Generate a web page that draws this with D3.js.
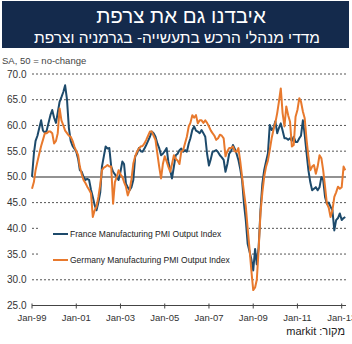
<!DOCTYPE html>
<html>
<head>
<meta charset="utf-8">
<script src="https://cdn.jsdelivr.net/npm/d3@7"></script>
<style>
  body { margin: 0; background: #fff; }
  svg { display: block; font-family: "Liberation Sans", Arial, sans-serif; }
</style>
</head>
<body>
<svg id="chart" width="352" height="344"></svg>
<script>
// monthly values, Jan-99 .. Mar-13
const firstMonth = new Date(1999, 0, 1);

const france = [
  50.0, 54.5, 57.0, 58.0, 59.5, 61.0, 59.0, 58.6, 59.0, 60.5, 62.0, 63.0, // 1999
  61.5, 60.5, 62.5, 64.6, 65.5, 66.5, 67.8, 65.0, 59.5, 57.0, 56.0, 55.5, // 2000
  54.9, 53.5, 51.3, 51.0, 50.0, 49.4, 49.6, 49.4, 47.5, 46.1, 44.5, 43.5, // 2001
  45.0, 47.0, 52.0, 54.0, 55.9, 55.5, 55.6, 52.0, 51.0, 50.5, 50.0, 49.4, // 2002
  51.0, 53.0, 52.5, 48.7, 48.0, 47.4, 48.0, 49.4, 54.0, 54.5, 55.6, 55.0, // 2003
  54.9, 55.5, 56.2, 57.0, 57.8, 58.8, 58.5, 57.8, 56.5, 55.6, 54.2, 54.5, // 2004
  55.0, 55.6, 53.0, 51.3, 49.7, 52.0, 54.2, 54.5, 55.2, 55.5, 54.9, 55.2, // 2005
  54.9, 56.5, 57.5, 59.1, 59.8, 59.0, 58.8, 58.5, 59.1, 58.5, 57.8, 54.5, // 2006
  52.2, 53.5, 54.9, 55.0, 55.2, 54.8, 54.2, 53.8, 53.3, 51.0, 52.5, 54.5, // 2007
  55.0, 56.2, 55.5, 54.5, 53.3, 51.5, 49.4, 44.8, 41.5, 37.0, 35.5, 34.0, // 2008
  31.8, 36.0, 33.0, 36.4, 43.5, 48.7, 51.3, 53.0, 54.6, 60.1, 59.1, 59.5, // 2009
  60.8, 58.5, 59.5, 60.4, 59.0, 57.5, 57.5, 57.2, 57.5, 57.0, 57.8, 56.8, // 2010
  56.8, 57.5, 58.0, 61.0, 58.2, 54.6, 51.3, 49.0, 47.4, 47.7, 48.0, 47.4, // 2011
  48.0, 50.0, 49.4, 46.1, 44.8, 45.0, 44.2, 43.5, 39.6, 41.6, 42.0, 42.9, // 2012
  41.6, 42.0, 42.2                                                         // 2013
];

const germany = [
  47.7, 49.0, 51.3, 53.0, 54.5, 56.0, 57.2, 58.5, 58.5, 58.8, 58.8, 58.5, // 1999
  56.5, 57.0, 58.5, 63.3, 61.0, 60.0, 59.0, 58.5, 58.0, 57.8, 57.0, 55.9, // 2000
  55.0, 54.2, 52.0, 50.5, 49.4, 48.8, 48.1, 47.5, 46.8, 42.2, 43.5, 44.2, // 2001
  46.1, 48.5, 51.3, 51.8, 52.0, 52.3, 52.0, 52.0, 44.8, 49.0, 50.0, 51.3, // 2002
  50.5, 50.0, 49.0, 48.1, 46.4, 47.4, 49.5, 52.6, 54.0, 54.9, 55.5, 55.9, // 2003
  56.0, 56.5, 57.2, 58.0, 58.8, 58.8, 58.0, 57.2, 54.5, 52.0, 49.7, 52.5, // 2004
  54.0, 53.0, 52.0, 51.0, 52.5, 54.2, 53.5, 53.2, 52.5, 54.9, 55.2, 56.5, // 2005
  57.8, 59.8, 60.5, 62.0, 61.5, 62.0, 60.4, 61.0, 61.0, 60.5, 61.0, 60.5, // 2006
  59.8, 59.0, 58.5, 58.0, 57.2, 57.5, 58.2, 58.0, 57.5, 54.0, 55.0, 55.6, // 2007
  55.6, 55.9, 55.0, 54.9, 55.6, 53.0, 50.0, 47.0, 44.2, 40.0, 36.0, 31.8, // 2008
  28.0, 28.5, 30.0, 36.0, 43.0, 47.0, 50.0, 52.0, 53.2, 55.2, 57.5, 59.1, // 2009
  60.5, 62.4, 64.6, 67.2, 62.4, 59.8, 63.7, 62.0, 60.7, 55.9, 56.2, 61.7, // 2010
  63.0, 65.3, 64.6, 62.7, 61.4, 57.2, 54.0, 51.3, 52.0, 52.3, 50.6, 52.0, // 2011
  54.2, 53.6, 51.3, 48.1, 44.8, 44.0, 42.2, 43.5, 46.1, 47.0, 48.1, 47.7, // 2012
  48.0, 52.0, 51.3                                                         // 2013
];

const seriesNames = ["France Manufacturing PMI Output Index", "Germany Manufacturing PMI Output Index"];
const seriesColors = ["#1d4a6b", "#e8792d"];
const yTicks = [25, 30, 35, 40, 45, 50, 55, 60, 65, 70];
const xTickLabels = ["Jan-99", "Jan-01", "Jan-03", "Jan-05", "Jan-07", "Jan-09", "Jan-11", "Jan-13"];

const titleText = "איבדנו גם את צרפת";
const subtitleText = "מדדי מנהלי הרכש בתעשייה- בגרמניה וצרפת";
const unitText = "SA, 50 = no-change";
const sourceText = "מקור: markit";

const svg = d3.select("#chart");
const parseTick = d3.timeParse("%b-%y");

const x = d3.scaleTime()
    .domain([firstMonth, parseTick("Jan-13")])
    .range([32, 341.7]);
const y = d3.scaleLinear().domain([25, 70]).range([305.5, 74]);
const plotRight = 346;

// header banner
svg.append("rect")
    .attr("x", 2).attr("y", 1).attr("width", 347).attr("height", 47)
    .attr("fill", "#142a4c");

svg.append("text")
    .attr("x", 181).attr("y", 23)
    .attr("text-anchor", "middle")
    .attr("direction", "rtl")
    .attr("fill", "#fff")
    .style("font-size", "20.5px")
    .text(titleText);

svg.append("text")
    .attr("x", 177).attr("y", 43)
    .attr("text-anchor", "middle")
    .attr("direction", "rtl")
    .attr("fill", "#fff")
    .style("font-size", "15.5px")
    .text(subtitleText);

svg.append("text")
    .attr("x", 2).attr("y", 64)
    .attr("fill", "#444")
    .style("font-size", "9.5px")
    .text(unitText);

// gridlines + y labels
yTicks.forEach(t => {
    if (t > 25) {
        svg.append("line")
            .attr("x1", 32).attr("x2", plotRight)
            .attr("y1", y(t)).attr("y2", y(t))
            .attr("stroke", t === 50 ? "#6e6e6e" : "#555")
            .attr("stroke-width", t === 50 ? 1.5 : 1)
            .attr("stroke-dasharray", t === 50 ? null : "2,2");
    }
    svg.append("text")
        .attr("x", 26.5).attr("y", y(t))
        .attr("dy", "0.35em")
        .attr("text-anchor", "end")
        .attr("fill", "#333")
        .style("font-size", "10px")
        .text(d3.format(".1f")(t));
});

// x axis
svg.append("line")
    .attr("x1", 32).attr("x2", plotRight)
    .attr("y1", y(25)).attr("y2", y(25))
    .attr("stroke", "#444").attr("stroke-width", 1);

xTickLabels.forEach(lbl => {
    const xv = x(parseTick(lbl));
    svg.append("line")
        .attr("x1", xv).attr("x2", xv)
        .attr("y1", y(25) - 2).attr("y2", y(25) + 3)
        .attr("stroke", "#444");
    svg.append("text")
        .attr("x", xv).attr("y", 321)
        .attr("text-anchor", "middle")
        .attr("fill", "#333")
        .style("font-size", "9.5px")
        .text(lbl);
});

// legend (white box hides gridlines behind it)
svg.append("rect")
    .attr("x", 39).attr("y", 214).attr("width", 210).attr("height", 56)
    .attr("fill", "#fff");

seriesNames.forEach((name, i) => {
    const ly = 234 + i * 26;
    svg.append("line")
        .attr("x1", 53).attr("x2", 68)
        .attr("y1", ly).attr("y2", ly)
        .attr("stroke", seriesColors[i]).attr("stroke-width", 2);
    svg.append("text")
        .attr("x", 70).attr("y", ly)
        .attr("dy", "0.35em")
        .attr("fill", "#222")
        .style("font-size", "8.5px")
        .text(name);
});

// series
const line = d3.line()
    .x((d, i) => x(d3.timeMonth.offset(firstMonth, i)))
    .y(d => y(d));

[france, germany].forEach((vals, i) => {
    svg.append("path")
        .datum(vals)
        .attr("fill", "none")
        .attr("stroke", seriesColors[i])
        .attr("stroke-width", 2)
        .attr("stroke-linejoin", "round")
        .attr("d", line);
});

// source
svg.append("text")
    .attr("x", 345).attr("y", 335)
    .attr("direction", "rtl")
    .attr("text-anchor", "start")
    .attr("fill", "#222")
    .style("font-size", "11px")
    .text(sourceText);
</script>
</body>
</html>
